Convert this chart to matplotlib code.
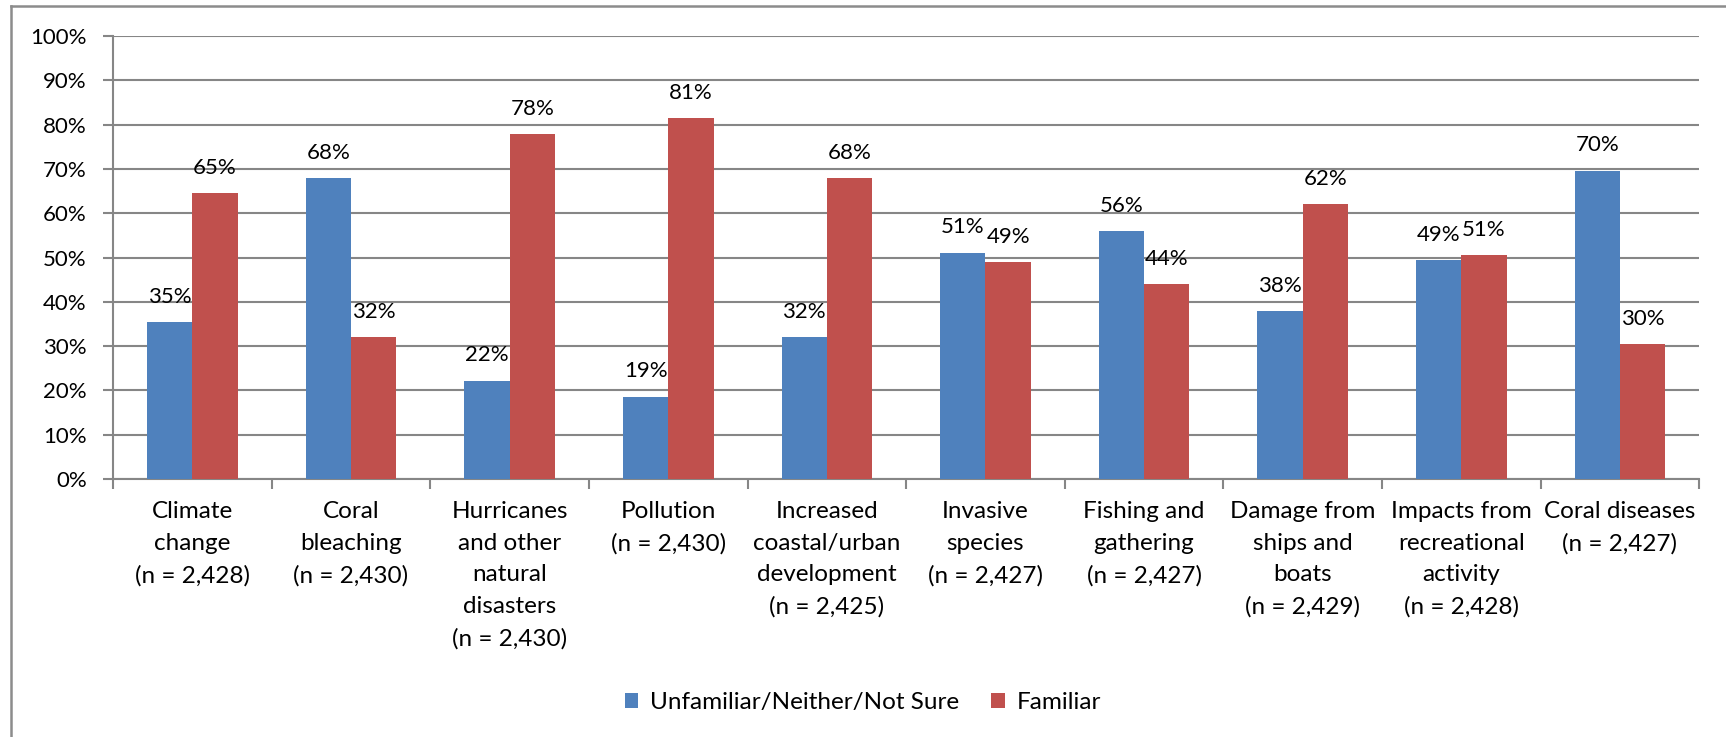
import numpy as np
import matplotlib
matplotlib.use('Agg')
from matplotlib import pyplot as plt
from matplotlib.lines import Line2D

plt.rcParams['font.family'] = ['Lato', 'DejaVu Sans']

categories = ['Climate\nchange\n(n = 2,428)',
              'Coral\nbleaching\n(n = 2,430)',
              'Hurricanes\nand other\nnatural\ndisasters\n(n = 2,430)',
              'Pollution\n(n = 2,430)',
              'Increased\ncoastal/urban\ndevelopment\n(n = 2,425)',
              'Invasive\nspecies\n(n = 2,427)',
              'Fishing and\ngathering\n(n = 2,427)',
              'Damage from\nships and\nboats\n(n = 2,429)',
              'Impacts from\nrecreational\nactivity\n(n = 2,428)',
              'Coral diseases\n(n = 2,427)']
unfamiliar = [35.4, 67.9, 22.2, 18.6, 32.1, 51.1, 56.0, 37.9, 49.4, 69.6]
familiar = [64.6, 32.1, 77.8, 81.4, 67.9, 48.9, 44.0, 62.1, 50.6, 30.4]
series_names = ['Unfamiliar/Neither/Not Sure', 'Familiar']
yticks = [0, 10, 20, 30, 40, 50, 60, 70, 80, 90, 100]

blue = '#4F81BD'
red = '#C0504D'
gray = '#868686'
fs = 16
fs_txt = 17.5

fig = plt.figure(figsize=(17.26, 7.37), dpi=100)
ax = fig.add_axes([0.0655, 0.350, 0.919, 0.601])

x = np.arange(len(categories))
w = 1 / 3.5
b1 = ax.bar(x - w / 2, unfamiliar, w, color=blue, label=series_names[0], zorder=3)
b2 = ax.bar(x + w / 2, familiar, w, color=red, label=series_names[1], zorder=3)

# value labels above each bar
for bars, vals in [(b1, unfamiliar), (b2, familiar)]:
    for r, v in zip(bars, vals):
        ax.annotate('%d%%' % round(v), (r.get_x() + r.get_width() / 2, v),
                    xytext=(0, 11), textcoords='offset points',
                    ha='center', va='bottom', fontsize=fs)

ax.set_xlim(-0.5, len(categories) - 0.5)
ax.set_ylim(0, 100)
ax.set_yticks(yticks)
ax.set_yticklabels(['%d%%' % t for t in yticks], fontsize=fs)
ax.yaxis.grid(True, color=gray, linewidth=1.5, zorder=0)

ax.set_xticks(np.arange(-0.5, len(categories)), minor=False)
ax.set_xticklabels([])
ax.set_xticks(x, minor=True)
ax.set_xticklabels(categories, minor=True, fontsize=fs_txt, linespacing=1.62,
                   va='top', ha='center')
ax.tick_params(axis='x', which='minor', length=0, pad=16)
ax.tick_params(axis='x', which='major', length=7, color=gray, width=1.5)
ax.tick_params(axis='y', length=7, color=gray, width=1.5, pad=12)

for s in ['top', 'right']:
    ax.spines[s].set_visible(False)
for s in ['left', 'bottom']:
    ax.spines[s].set_color(gray)
    ax.spines[s].set_linewidth(1.5)

fig.legend(handles=[b1, b2], loc='center', bbox_to_anchor=(0.5, 0.047), ncol=2,
           frameon=False, fontsize=fs_txt, handlelength=0.55, handleheight=0.55,
           columnspacing=1.3, handletextpad=0.5)

# chart border (top and left edges)
fig.add_artist(Line2D([11 / 1726, 1], [1 - 6 / 737, 1 - 6 / 737], color='#8c8c8c', lw=1.8))
fig.add_artist(Line2D([11 / 1726, 11 / 1726], [0, 1 - 6 / 737], color='#8c8c8c', lw=1.8))

fig.savefig('out.png', dpi=100)
